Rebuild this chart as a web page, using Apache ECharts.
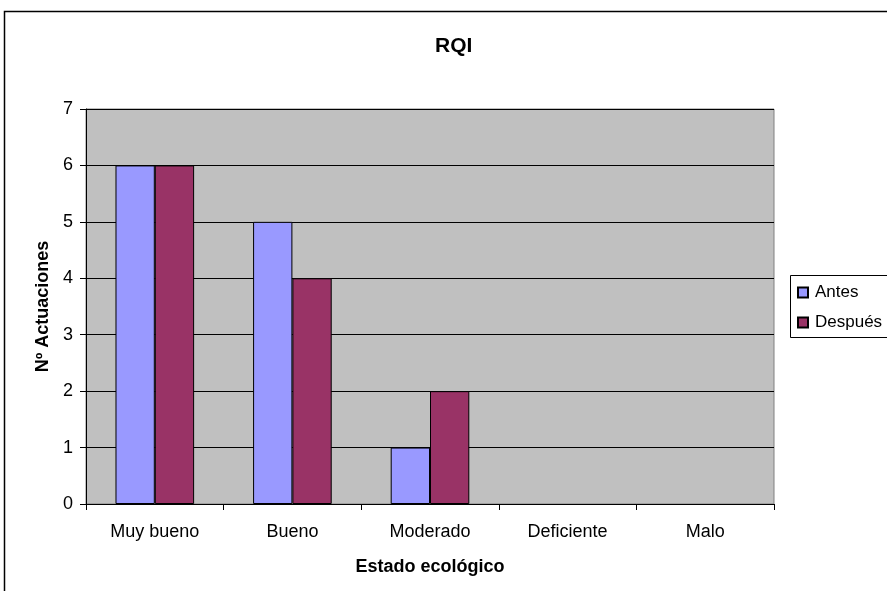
<!DOCTYPE html>
<html>
<head>
<meta charset="utf-8">
<script src="https://cdn.jsdelivr.net/npm/echarts@6/dist/echarts.min.js"></script>
<style>
  html, body { margin: 0; padding: 0; background: #ffffff; }
  #chart { width: 887px; height: 591px; }
</style>
</head>
<body>
<div id="chart"></div>
<script>
// Ecological status categories and counts of actions before/after
const categories = ['Muy bueno', 'Bueno', 'Moderado', 'Deficiente', 'Malo'];
const antes = [6, 5, 1, 0, 0];
const despues = [6, 4, 2, 0, 0];
const yTicks = [0, 1, 2, 3, 4, 5, 6, 7];

const FONT = '"Liberation Sans", Arial, sans-serif';

// Zero-height bars are not outlined
const toBarData = arr => arr.map(v => v === 0 ? { value: v, itemStyle: { borderWidth: 0, opacity: 0 } } : v);

const chart = echarts.init(document.getElementById('chart'), null, { renderer: 'canvas' });

chart.setOption({
  animation: false,
  backgroundColor: '#ffffff',
  textStyle: { fontFamily: FONT, color: '#000' },
  title: {
    text: 'RQI',
    left: 430, top: 31,
    textStyle: { fontFamily: FONT, fontSize: 21, fontWeight: 'bold', color: '#000' }
  },
  legend: {
    orient: 'vertical',
    left: 792, top: 279,
    itemWidth: 10, itemHeight: 10, itemGap: 13,
    icon: 'rect',
    textStyle: { fontFamily: FONT, fontSize: 17, color: '#000', padding: [0, 0, 0, 2] },
    data: ['Antes', 'Después']
  },
  grid: {
    left: 86, top: 109, width: 688, height: 395,
    show: true, backgroundColor: '#c0c0c0', borderColor: '#808080', borderWidth: 1,
    containLabel: false
  },
  graphic: [{
    type: 'rect', z: -1, silent: true,
    shape: { x: 4.5, y: 11.5, width: 1000, height: 1000 },
    style: { fill: null, stroke: '#000', lineWidth: 1.5 }
  }, {
    type: 'rect', z: 10, silent: true,
    shape: { x: 790.5, y: 275.5, width: 200, height: 62 },
    style: { fill: null, stroke: '#000', lineWidth: 1 }
  }],
  xAxis: {
    type: 'category',
    data: categories,
    name: 'Estado ecológico',
    nameLocation: 'middle',
    nameGap: 54,
    nameTextStyle: { fontFamily: FONT, fontSize: 18, fontWeight: 'bold', color: '#000' },
    axisLine: { show: true, lineStyle: { color: '#000', width: 1 } },
    axisTick: { show: true, alignWithLabel: false, length: 6, lineStyle: { color: '#000' } },
    axisLabel: { fontFamily: FONT, fontSize: 18, color: '#000', margin: 19 },
    splitLine: { show: false }
  },
  yAxis: {
    type: 'value',
    min: 0, max: 7, interval: 1,
    name: 'Nº Actuaciones',
    nameLocation: 'middle',
    nameGap: 34,
    nameRotate: 90,
    nameTextStyle: { fontFamily: FONT, fontSize: 18, fontWeight: 'bold', color: '#000' },
    axisLine: { show: true, lineStyle: { color: '#000', width: 1 } },
    axisTick: { show: true, length: 6, lineStyle: { color: '#000' } },
    axisLabel: {
      fontFamily: FONT, fontSize: 18, color: '#000', margin: 13,
      formatter: v => yTicks.includes(v) ? String(v) : ''
    },
    splitLine: { show: true, lineStyle: { color: '#000', width: 1 } }
  },
  series: [{
    name: 'Antes',
    type: 'bar',
    data: toBarData(antes),
    barGap: '0%',
    barCategoryGap: '42.86%',
    itemStyle: { color: '#9999ff', borderColor: '#000', borderWidth: 1 }
  }, {
    name: 'Después',
    type: 'bar',
    data: toBarData(despues),
    itemStyle: { color: '#993366', borderColor: '#000', borderWidth: 1 }
  }]
});
</script>
</body>
</html>
